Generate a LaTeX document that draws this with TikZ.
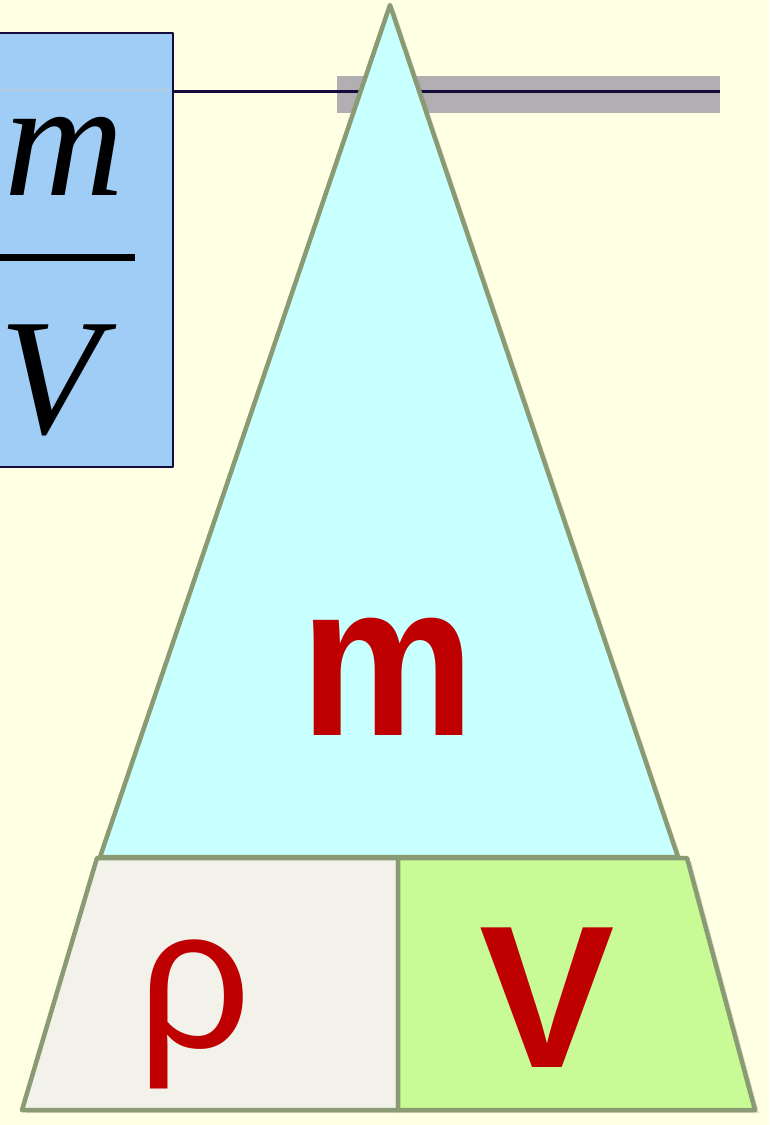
\documentclass[tikz,border=0pt]{standalone}
\usepackage{fontspec}
\setmainfont{Liberation Serif}
\newfontfamily\arialfont{Liberation Sans}
\usetikzlibrary{shadows}

\definecolor{bgyellow}{RGB}{255,255,228}
\definecolor{boxblue}{RGB}{160,205,245}
\definecolor{navy}{RGB}{20,10,60}
\definecolor{bargray}{RGB}{178,175,178}
\definecolor{tricyan}{RGB}{200,255,255}
\definecolor{leftgray}{RGB}{242,242,234}
\definecolor{rightgreen}{RGB}{200,250,150}
\definecolor{olivegray}{RGB}{138,155,115}
\definecolor{letterred}{RGB}{190,0,0}

\begin{document}
\begin{tikzpicture}[x=1pt, y=-1pt, line join=round,
  edge/.style={draw=olivegray, line width=4.5pt},
  softshadow/.style={drop shadow={shadow xshift=4pt, shadow yshift=-3pt, opacity=0.25}},
  redletter/.style={text=letterred, inner sep=0pt, anchor=base},
  fracletter/.style={text=black, inner sep=0pt, anchor=base,
    font=\fontsize{166}{166}\selectfont\itshape}]
  % Nền
  \useasboundingbox[fill=bgyellow] (0,0) rectangle (769,1125);

  % Hộp công thức bên trái
  \draw[fill=boxblue, draw=navy, line width=2.5pt] (-10,33) rectangle (173,467);
  \draw[boxblue!80!navy!60, line width=1.5pt] (0,90) -- (171,90);
  \node[fracletter] (num) at (64,195) {m};
  \draw[black, line width=7pt] (-10,257) -- (135,257);
  \node[fracletter] (den) at (50,433) {V};

  % Thanh ngang phía trên
  \fill[bargray] (337,76) rectangle (720,113);
  \draw[navy, line width=3pt] (173,91) -- (720,91);

  % Tam giác
  \coordinate (apex) at (390,5);
  \coordinate (tl) at (100,857);
  \coordinate (tr) at (678,857);
  \draw[edge, fill=tricyan, softshadow] (apex) -- (tr) -- (tl) -- cycle;

  % Hình thang đáy
  \coordinate (bl) at (22,1110);
  \coordinate (br) at (755,1110);
  \coordinate (ml) at (97,858);
  \coordinate (mr) at (687,858);
  \coordinate (dtop) at (398,858);
  \coordinate (dbot) at (398,1110);
  \draw[edge, fill=leftgray, softshadow] (ml) -- (dtop) -- (dbot) -- (bl) -- cycle;
  \draw[edge, fill=rightgreen, softshadow] (dtop) -- (mr) -- (br) -- (dbot) -- cycle;

  % Chữ
  \node[redletter, font=\arialfont\bfseries\fontsize{218}{218}\selectfont] (mass) at (388,735)
    {\scalebox{0.9}[1]{m}};
  \node[redletter, font=\arialfont\fontsize{200}{200}\selectfont] (rho) at (194,1047) {ρ};
  \node[redletter, font=\arialfont\bfseries\fontsize{203}{203}\selectfont] (vol) at (547,1067) {V};
\end{tikzpicture}
\end{document}
